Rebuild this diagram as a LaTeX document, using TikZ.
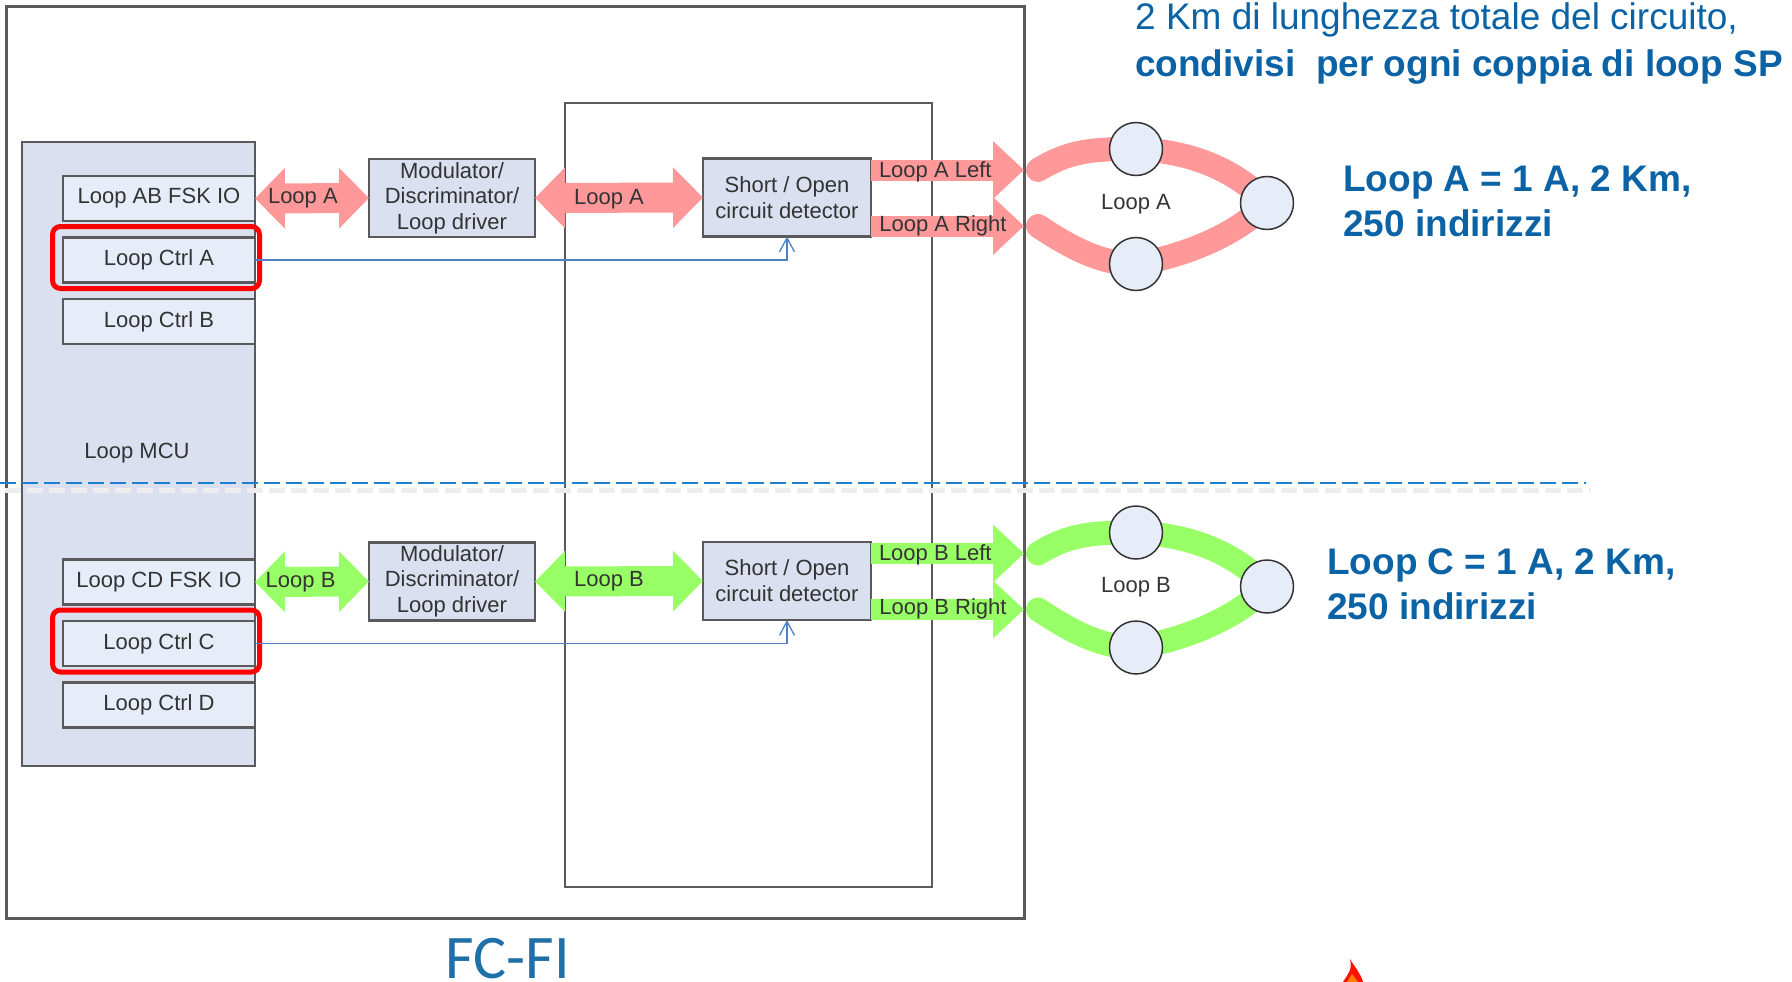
\documentclass[tikz,border=0pt]{standalone}
\usepackage{fontspec}
\setmainfont{Liberation Sans}
\newfontfamily\titlefont{Carlito}
\usetikzlibrary{arrows.meta, positioning}
\definecolor{mcufill}{HTML}{DAE0F0}
\definecolor{boxfill}{HTML}{E6ECF8}
\definecolor{linegray}{HTML}{5A5A5A}
\definecolor{loopred}{HTML}{FF9999}
\definecolor{loopgreen}{HTML}{99FF66}
\definecolor{ctrlblue}{HTML}{4F81C4}
\definecolor{splitblue}{HTML}{1F7FD0}
\definecolor{notecolor}{HTML}{0B63A5}
\definecolor{titlecolor}{HTML}{1F6FA8}
\tikzset{
  block/.style={draw=linegray, line width=2.5pt, inner sep=0pt, outer sep=0pt, align=center, text=black!80,
    font=\fontsize{22}{26}\selectfont},
  slot/.style={block, fill=boxfill, minimum width=192pt, minimum height=45pt},
  drv/.style={block, fill=mcufill, minimum width=166pt, minimum height=78pt},
  det/.style={block, fill=mcufill, minimum width=168pt, minimum height=78pt},
  mark box/.style={draw=red, line width=5pt, rounded corners=8pt, minimum width=207pt, minimum height=62pt, outer sep=0pt},
  dev/.style={draw=black!80, line width=1.5pt, circle, fill=boxfill, minimum size=53pt, inner sep=0pt},
  lbl/.style={inner sep=0pt, text=black!80, font=\fontsize{22}{26}\selectfont},
  note/.style={inner sep=0pt, anchor=west, align=left, text=notecolor},
  fat2/.style={line width=30pt, {Triangle[length=30pt,width=59pt]}-{Triangle[length=30pt,width=59pt]}},
  fat1/.style={line width=21pt, -{Triangle[length=31pt,width=56pt]}},
  band/.style={line width=24pt, line cap=round},
  ctrl/.style={draw=ctrlblue, line width=1.3pt, -{Straight Barb[length=14pt,width=15pt]}},
}
\begin{document}
\begin{tikzpicture}[x=1pt, y=-1pt]
\useasboundingbox (0,0) rectangle (1792,982);
\def\shiftB{383.5}

%Frames
\node (fcfi) at (6,7) [draw=linegray, line width=3pt, anchor=north west, minimum width=1018pt, minimum height=911pt, outer sep=0pt] {};
\node (inner) at (565,103) [draw=linegray, line width=2.5pt, anchor=north west, minimum width=367pt, minimum height=784pt, outer sep=0pt] {};
\node (mcu) at (22,142) [block, fill=mcufill, anchor=north west, minimum width=233pt, minimum height=624pt] {};
\node (mculbl) at (137,453) [lbl] {Loop MCU};

%Upper half
\node (fskA) at (159,198.5) [slot] {Loop AB FSK IO};
\node (ctrlA) at (159,260) [slot] {Loop Ctrl A};
\node (ctrlB) at (159,321.5) [slot] {Loop Ctrl B};
\node (modA) at (452,198) [drv] {\raisebox{-1pt}{Modulator/}\\Discriminator/\\Loop driver};
\node (detA) at (787,197.5) [det] {Short / Open\\circuit detector};
\node (redA) at (156,257.5) [mark box] {};

\coordinate (leftA) at (1024,170);
\coordinate (rightA) at (1024,226);
\coordinate (bandAl) at (1038,170);
\coordinate (bandAr) at (1038,226);
\coordinate (topA) at (1136,149);
\coordinate (botA) at (1136,264);
\coordinate (endA) at (1267,203);

\draw[fat2, loopred] (fskA.east) to node[lbl, pos=.42] {Loop A} (modA.west);
\draw[fat2, loopred] (modA.east) to node[lbl, pos=.44, yshift=-1pt] {Loop A} (detA.west);
\draw[fat1, loopred] (detA.east |- leftA) to node[lbl, pos=.42, yshift=-2pt] {Loop A Left} (leftA);
\draw[fat1, loopred] (detA.east |- rightA) to node[lbl, pos=.47] {Loop A Right} (rightA);
\draw[ctrl] (ctrlA.east) -| (detA.south);

\draw[band, loopred] (bandAl) .. controls (1070,150) and (1095,149) .. (topA) .. controls (1200,152) and (1240,175) .. (endA);
\draw[band, loopred] (bandAr) .. controls (1070,247) and (1100,264) .. (botA) .. controls (1190,255) and (1240,232) .. (endA);
\node (devA1) at (topA) [dev] {};
\node (devA2) at (botA) [dev] {};
\node (devA3) at (endA) [dev] {};
\node (nameA) at (1136,204) [lbl] {Loop A};

%Lower half
\node (fskB) at (159,198.5+\shiftB) [slot] {Loop CD FSK IO};
\node (ctrlC) at (159,260+\shiftB) [slot] {Loop Ctrl C};
\node (ctrlD) at (159,321.5+\shiftB) [slot] {Loop Ctrl D};
\node (modB) at (452,198+\shiftB) [drv] {\raisebox{-1pt}{Modulator/}\\Discriminator/\\Loop driver};
\node (detB) at (787,197.5+\shiftB) [det] {Short / Open\\circuit detector};
\node (redC) at (156,257.5+\shiftB) [mark box] {};

\coordinate (leftB) at (1024,170+\shiftB);
\coordinate (rightB) at (1024,226+\shiftB);
\coordinate (bandBl) at (1038,170+\shiftB);
\coordinate (bandBr) at (1038,226+\shiftB);
\coordinate (topB) at (1136,149+\shiftB);
\coordinate (botB) at (1136,264+\shiftB);
\coordinate (endB) at (1267,203+\shiftB);

\draw[fat2, loopgreen] (fskB.east) to node[lbl, pos=.40] {Loop B} (modB.west);
\draw[fat2, loopgreen] (modB.east) to node[lbl, pos=.44] {Loop B} (detB.west);
\draw[fat1, loopgreen] (detB.east |- leftB) to node[lbl, pos=.42, yshift=-1pt] {Loop B Left} (leftB);
\draw[fat1, loopgreen] (detB.east |- rightB) to node[lbl, pos=.47, yshift=1pt] {Loop B Right} (rightB);
\draw[ctrl] (ctrlC.east) -| (detB.south);

\draw[band, loopgreen] (bandBl) .. controls (1070,150+\shiftB) and (1095,149+\shiftB) .. (topB) .. controls (1200,152+\shiftB) and (1240,175+\shiftB) .. (endB);
\draw[band, loopgreen] (bandBr) .. controls (1070,247+\shiftB) and (1100,264+\shiftB) .. (botB) .. controls (1190,255+\shiftB) and (1240,232+\shiftB) .. (endB);
\node (devB1) at (topB) [dev] {};
\node (devB2) at (botB) [dev] {};
\node (devB3) at (endB) [dev] {};
\node (nameB) at (1136,204+\shiftB) [lbl] {Loop B};

%Split line
\coordinate (splitl) at (0,483);
\coordinate (splitr) at (1586,483);
\coordinate (shadel) at (5,490);
\coordinate (shader) at (1591,490);
\draw[black!7, line width=5pt, dash pattern=on 16pt off 6pt] (shadel) -- (shader);
\draw[splitblue, line width=2pt, dash pattern=on 16pt off 6pt] (splitl) -- (splitr);

%Notes
\node (note1) at (1135,20) [note, font=\fontsize{37}{37}\selectfont] {2 Km di lunghezza totale del circuito,};
\node (note2) at (1135,67) [note, font=\bfseries\fontsize{37}{37}\selectfont] {condivisi\ \ per ogni coppia di loop SP};
\node (noteA) at (1343,201) [note, font=\bfseries\fontsize{37}{45}\selectfont] {Loop A = 1 A, 2 Km,\\250 indirizzi};
\node (noteC) at (1327,584) [note, font=\bfseries\fontsize{37}{45}\selectfont] {Loop C = 1 A, 2 Km,\\250 indirizzi};
\node (title) at (508,959) [inner sep=0pt, text=titlecolor, font=\titlefont\fontsize{62}{62}\selectfont] {FC-FI};

%Flame
\fill[red!85!orange] (1350,959) .. controls (1354,966) and (1361,974) .. (1363,982) -- (1343,982) .. controls (1347,975) and (1353,970) .. (1350,959) -- cycle;
\fill[orange] (1352,974) -- (1358,982) -- (1347,982) -- cycle;
\end{tikzpicture}
\end{document}
